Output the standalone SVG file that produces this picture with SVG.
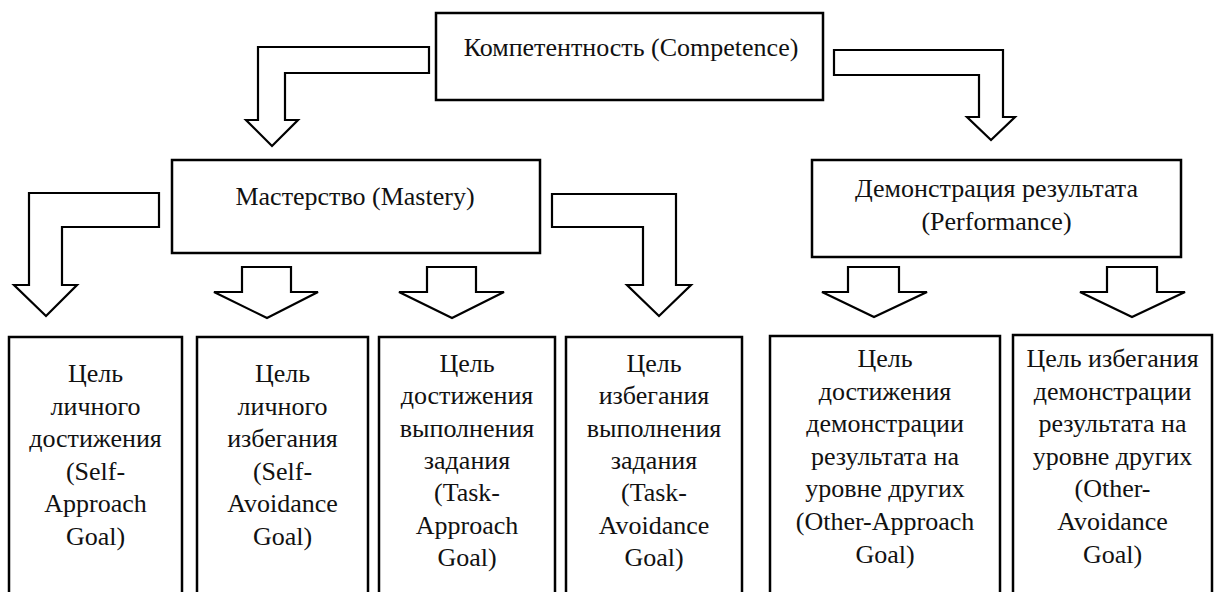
<svg xmlns="http://www.w3.org/2000/svg" width="1215" height="592" viewBox="0 0 1215 592">
<style>
.box{fill:#fff;stroke:#000;stroke-width:2.5}
.arr{fill:#fff;stroke:#000;stroke-width:2.2;stroke-linejoin:miter}
text{font-family:"Liberation Serif","Times New Roman",serif;font-size:26px;fill:#111;text-anchor:middle}
</style>
<rect width="1215" height="592" fill="#fff"/>
<g id="connectors">
<polygon class="arr" points="429,47 258,47 258,120 246,120 272,146 298,120 285,120 285,73 429,73"/>
<polygon class="arr" points="834,50 1003,50 1003,117 1015,117 991,140 967,117 979,117 979,75 834,75"/>
<polygon class="arr" points="159,193 29,193 29,285 14,285 46,316 77,285 62,285 62,227 159,227"/>
<polygon class="arr" points="552,194 676,194 676,285 691,285 659,316 627,285 643,285 643,227 552,227"/>
<polygon class="arr" points="242,267 291,267 291,292 318,292 267,318 214,292 242,292"/>
<polygon class="arr" points="427,267 476,267 476,292 504,292 452,318 399,292 427,292"/>
<polygon class="arr" points="848,267 899,267 899,292 927,292 874,317 822,292 848,292"/>
<polygon class="arr" points="1107,267 1157,267 1157,292 1185,292 1132,317 1080,292 1107,292"/>
</g>
<g id="competence">
<rect class="box" x="436" y="13" width="387" height="87"/>
<text x="631" y="56">Компетентность (Competence)</text>
</g>
<g id="mastery">
<rect class="box" x="172" y="160" width="368" height="93"/>
<text x="355" y="205">Мастерство (Mastery)</text>
</g>
<g id="performance">
<rect class="box" x="812" y="160" width="369" height="97"/>
<text x="996.5" y="197">Демонстрация результата</text>
<text x="996.5" y="229.5">(Performance)</text>
</g>
<g id="self-approach">
<rect class="box" x="9" y="337" width="173" height="270"/>
<text x="95.5" y="382">Цель</text>
<text x="95.5" y="414.6">личного</text>
<text x="95.5" y="447.2">достижения</text>
<text x="95.5" y="479.8">(Self-</text>
<text x="95.5" y="512.4">Approach</text>
<text x="95.5" y="545">Goal)</text>
</g>
<g id="self-avoidance">
<rect class="box" x="197" y="337" width="171" height="270"/>
<text x="282.5" y="382">Цель</text>
<text x="282.5" y="414.6">личного</text>
<text x="282.5" y="447.2">избегания</text>
<text x="282.5" y="479.8">(Self-</text>
<text x="282.5" y="512.4">Avoidance</text>
<text x="282.5" y="545">Goal)</text>
</g>
<g id="task-approach">
<rect class="box" x="379" y="337" width="176" height="270"/>
<text x="467" y="372">Цель</text>
<text x="467" y="404.3">достижения</text>
<text x="467" y="436.6">выполнения</text>
<text x="467" y="468.9">задания</text>
<text x="467" y="501.2">(Task-</text>
<text x="467" y="533.5">Approach</text>
<text x="467" y="565.8">Goal)</text>
</g>
<g id="task-avoidance">
<rect class="box" x="566" y="337" width="176" height="270"/>
<text x="654" y="372">Цель</text>
<text x="654" y="404.3">избегания</text>
<text x="654" y="436.6">выполнения</text>
<text x="654" y="468.9">задания</text>
<text x="654" y="501.2">(Task-</text>
<text x="654" y="533.5">Avoidance</text>
<text x="654" y="565.8">Goal)</text>
</g>
<g id="other-approach">
<rect class="box" x="770" y="336" width="230" height="270"/>
<text x="885" y="367">Цель</text>
<text x="885" y="399.6">достижения</text>
<text x="885" y="432.2">демонстрации</text>
<text x="885" y="464.8">результата на</text>
<text x="885" y="497.4">уровне других</text>
<text x="885" y="530">(Other-Approach</text>
<text x="885" y="562.6">Goal)</text>
</g>
<g id="other-avoidance">
<rect class="box" x="1013" y="335" width="199" height="270"/>
<text x="1112.5" y="367">Цель избегания</text>
<text x="1112.5" y="399.6">демонстрации</text>
<text x="1112.5" y="432.2">результата на</text>
<text x="1112.5" y="464.8">уровне других</text>
<text x="1112.5" y="497.4">(Other-</text>
<text x="1112.5" y="530">Avoidance</text>
<text x="1112.5" y="562.6">Goal)</text>
</g>
</svg>
